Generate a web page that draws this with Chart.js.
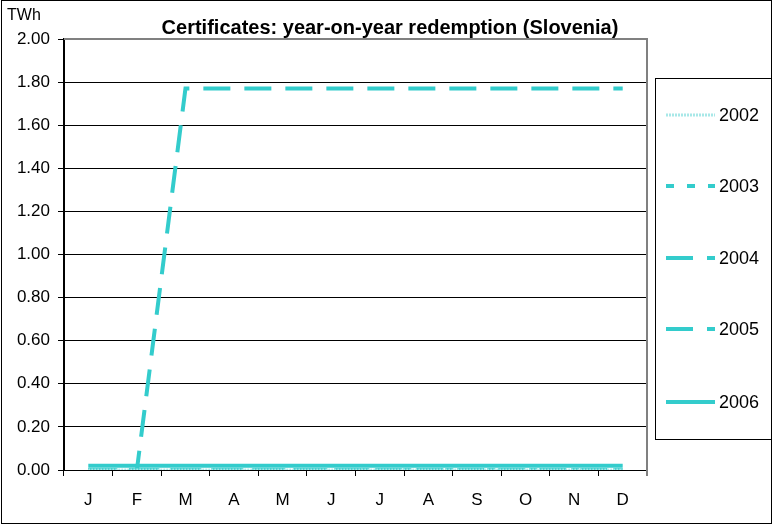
<!DOCTYPE html>
<html>
<head>
<meta charset="UTF-8">
<script src="https://cdn.jsdelivr.net/npm/chart.js"></script>
<style>
  body { margin: 0; background: #fff; }
  #wrap { position: relative; width: 773px; height: 525px; }
</style>
</head>
<body>
<div id="wrap"><canvas id="grafico" width="773" height="525"></canvas></div>
<script>
const meses = ["J", "F", "M", "A", "M", "J", "J", "A", "S", "O", "N", "D"];
const serie2002 = [0, 0, 0, 0, 0, 0, 0, 0, 0, 0, 0, 0];
const serie2003 = [0, 0, 0, 0, 0, 0, 0, 0, 0, 0, 0, 0];
const serie2004 = [0, 0, 0, 0, 0, 0, 0, 0, 0, 0, 0, 0];
const serie2005 = [0, 0, 1.77, 1.77, 1.77, 1.77, 1.77, 1.77, 1.77, 1.77, 1.77, 1.77];
const serie2006 = [0.02, 0.02, 0.02, 0.02, 0.02, 0.02, 0.02, 0.02, 0.02, 0.02, 0.02, 0.02];
const titulo = "Certificates: year-on-year redemption (Slovenia)";
const unidad = "TWh";

const cian = "#33CCCC";
const fuente = "'Liberation Sans', Arial, sans-serif";

// leyenda dibujada a mano, a la derecha del area del grafico
const leyendaPlugin = {
    id: "leyendaCaja",
    afterDraw(chart) {
        const ctx = chart.ctx;
        ctx.save();
        // marco exterior
        ctx.strokeStyle = "#000";
        ctx.lineWidth = 1;
        ctx.strokeRect(1.5, 0.5, 770, 523);
        // titulo y unidad
        ctx.fillStyle = "#000";
        ctx.font = "bold 20px " + fuente;
        ctx.textAlign = "center";
        ctx.textBaseline = "middle";
        ctx.fillText(titulo, 390, 28);
        ctx.font = "16px " + fuente;
        ctx.textAlign = "left";
        ctx.fillText(unidad, 7, 16);
        // caja de la leyenda
        ctx.strokeStyle = "#000";
        ctx.strokeRect(655.5, 78.5, 116, 361);
        const filas = [115, 186, 258, 329, 402];
        ctx.font = "18px " + fuente;
        chart.data.datasets.forEach((ds, i) => {
            const y = filas[i];
            ctx.beginPath();
            ctx.strokeStyle = ds.borderColor;
            ctx.lineWidth = ds.borderWidth;
            ctx.setLineDash(ds.borderDash || []);
            ctx.moveTo(666, y);
            ctx.lineTo(715, y);
            ctx.stroke();
            ctx.setLineDash([]);
            ctx.fillStyle = "#000";
            ctx.fillText(ds.label, 719, y + 1);
        });
        // borde gris del area de trazado
        const a = chart.chartArea;
        ctx.strokeStyle = "#808080";
        ctx.lineWidth = 2;
        ctx.beginPath();
        ctx.moveTo(a.left, a.top);
        ctx.lineTo(a.right, a.top);
        ctx.lineTo(a.right, a.bottom + 6);
        ctx.stroke();
        ctx.restore();
    }
};

const ctx = document.getElementById("grafico").getContext("2d");
new Chart(ctx, {
    type: "line",
    data: {
        labels: meses,
        datasets: [
            { label: "2002", data: serie2002, borderColor: "#A8E8E8", borderWidth: 3, borderDash: [2, 1] },
            { label: "2003", data: serie2003, borderColor: cian, borderWidth: 4, borderDash: [8, 13] },
            { label: "2004", data: serie2004, borderColor: cian, borderWidth: 4, borderDash: [27, 14] },
            { label: "2005", data: serie2005, borderColor: cian, borderWidth: 4, borderDash: [27, 14] },
            { label: "2006", data: serie2006, borderColor: cian, borderWidth: 4 }
        ]
    },
    options: {
        responsive: false,
        animation: false,
        elements: { point: { radius: 0 }, line: { tension: 0, borderCapStyle: "butt" } },
        layout: { padding: { top: 39, right: 126, left: 0, bottom: 0 } },
        plugins: { legend: { display: false }, title: { display: false }, tooltip: { enabled: false } },
        scales: {
            x: {
                offset: true,
                grid: { offset: true, drawOnChartArea: false, drawTicks: true, tickLength: 6, color: "#000" },
                border: { color: "#000", width: 1 },
                ticks: { color: "#000", font: { family: fuente, size: 17 }, padding: 14 },
                afterFit(scale) { scale.height = 55; }
            },
            y: {
                min: 0,
                max: 2,
                grid: { color: "#000", tickLength: 6 },
                border: { color: "#000", width: 2 },
                ticks: {
                    stepSize: 0.2,
                    color: "#000",
                    font: { family: fuente, size: 17 },
                    padding: 8,
                    callback: v => v.toFixed(2)
                },
                afterFit(scale) { scale.width = 64; }
            }
        }
    },
    plugins: [leyendaPlugin]
});
</script>
</body>
</html>
